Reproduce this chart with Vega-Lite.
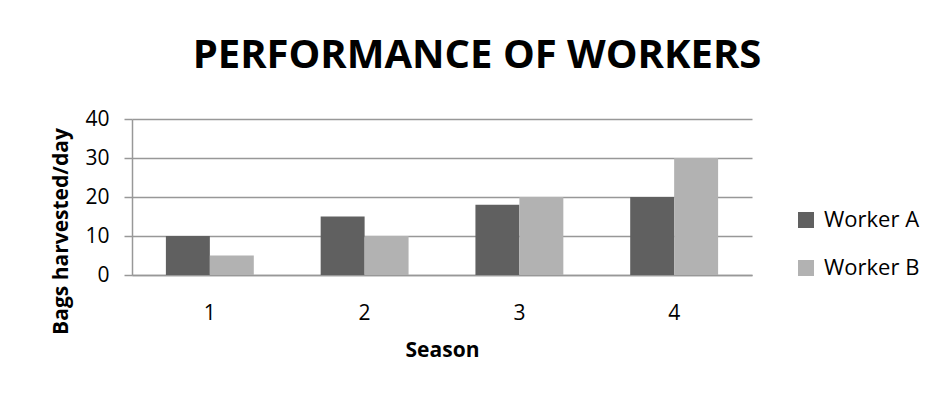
{
  "$schema": "https://vega.github.io/schema/vega-lite/v6.json",
  "width": 620,
  "height": 156,
  "autosize": {"type": "none"},
  "padding": {"left": 132, "top": 119, "right": 182, "bottom": 121},
  "background": "white",
  "title": {
    "text": "PERFORMANCE OF WORKERS",
    "font": "Open Sans",
    "fontSize": 40,
    "fontWeight": "bold",
    "color": "#000000",
    "anchor": "middle",
    "frame": "group",
    "baseline": "alphabetic",
    "offset": 0,
    "dx": 35
  },
  "data": {
    "values": [
      {"season": "1", "worker": "Worker A", "bags": 10},
      {"season": "1", "worker": "Worker B", "bags": 5},
      {"season": "2", "worker": "Worker A", "bags": 15},
      {"season": "2", "worker": "Worker B", "bags": 10},
      {"season": "3", "worker": "Worker A", "bags": 18},
      {"season": "3", "worker": "Worker B", "bags": 20},
      {"season": "4", "worker": "Worker A", "bags": 20},
      {"season": "4", "worker": "Worker B", "bags": 30}
    ]
  },
  "mark": {"type": "bar"},
  "encoding": {
    "x": {
      "field": "season",
      "type": "nominal",
      "title": "Season",
      "scale": {"paddingInner": 0.432, "paddingOuter": 0.219},
      "axis": {
        "labelAngle": 0,
        "ticks": false,
        "labelPadding": 27,
        "labelFont": "Open Sans",
        "labelFontSize": 21,
        "labelColor": "#000000",
        "domainColor": "#989898",
        "domainWidth": 1.5,
        "titleFont": "Open Sans",
        "titleFontSize": 21,
        "titleFontWeight": "bold",
        "titleColor": "#000000",
        "titleBaseline": "middle",
        "titleY": 75
      }
    },
    "xOffset": {"field": "worker", "type": "nominal", "scale": {"paddingInner": 0}},
    "y": {
      "field": "bags",
      "type": "quantitative",
      "title": "Bags harvested/day",
      "scale": {"domain": [0, 40]},
      "axis": {
        "values": [0, 10, 20, 30, 40],
        "grid": true,
        "gridColor": "#989898",
        "gridWidth": 1.5,
        "domainColor": "#989898",
        "domainWidth": 1.5,
        "tickColor": "#989898",
        "tickWidth": 1.5,
        "tickSize": 8,
        "labelPadding": 15,
        "labelFont": "Open Sans",
        "labelFontSize": 21,
        "labelColor": "#000000",
        "titleFont": "Open Sans",
        "titleFontSize": 21,
        "titleFontWeight": "bold",
        "titleColor": "#000000",
        "titleAngle": 270,
        "titleAlign": "center",
        "titleBaseline": "middle",
        "titleX": -71,
        "titleY": 112
      }
    },
    "color": {
      "field": "worker",
      "type": "nominal",
      "scale": {"domain": ["Worker A", "Worker B"], "range": ["#606060", "#b2b2b2"]},
      "legend": {
        "title": null,
        "orient": "none",
        "legendX": 663,
        "legendY": 90,
        "padding": 0,
        "symbolType": "square",
        "symbolSize": 256,
        "symbolStrokeWidth": 0,
        "symbolOpacity": 1,
        "labelFont": "Open Sans",
        "labelFontSize": 22,
        "labelColor": "#000000",
        "labelOffset": 7,
        "rowPadding": 26
      }
    }
  },
  "config": {"view": {"stroke": null}}
}
